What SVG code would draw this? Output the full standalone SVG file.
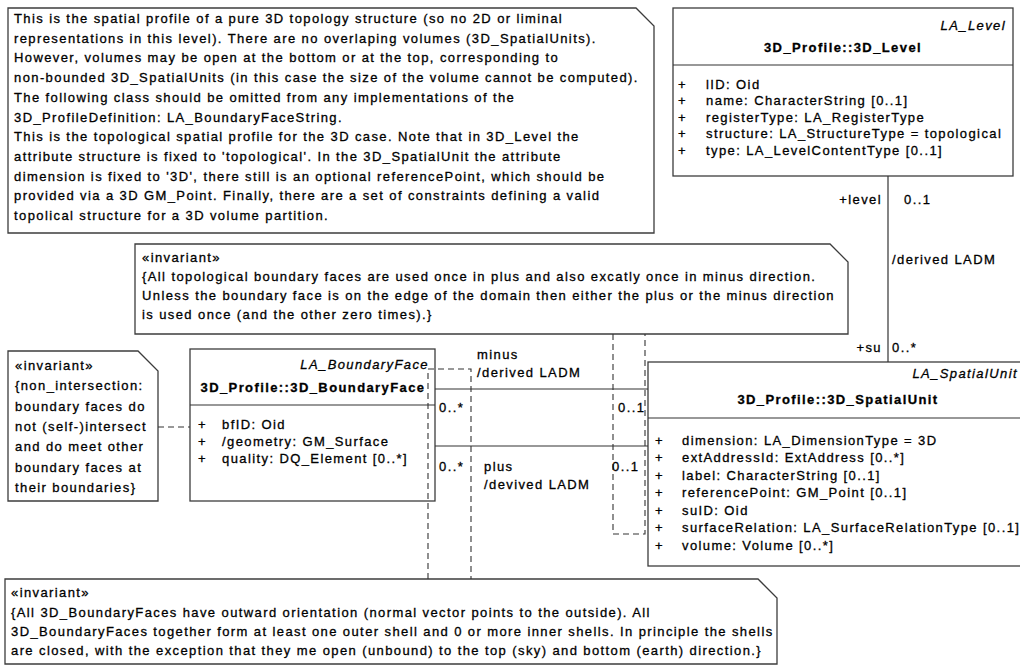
<svg xmlns="http://www.w3.org/2000/svg" width="1020" height="668" viewBox="0 0 1020 668">
<style>
text{font-family:"Liberation Sans",Arial,Helvetica,sans-serif;font-size:13px;letter-spacing:1.4px;fill:#000;stroke:#000;stroke-width:0.3}
.b{font-weight:bold}
.i{font-style:italic}
.e{text-anchor:end}
.m{text-anchor:middle}
.shape{fill:#fff;stroke:#3c3c3c;stroke-width:1.3}
.solid{fill:none;stroke:#333;stroke-width:1.2}
.dash{fill:none;stroke:#333;stroke-width:1.1;stroke-dasharray:6 4}
</style>
<rect width="1020" height="668" fill="#fff"/>

<g id="note-profile">
<path class="shape" d="M8,8 H636 L654,26 V233 H8 Z"/>
<text x="14" y="23">This is the spatial profile of a pure 3D topology structure (so no 2D or liminal</text>
<text x="14" y="42.7">representations in this level). There are no overlaping volumes (3D_SpatialUnits).</text>
<text x="14" y="62.4">However, volumes may be open at the bottom or at the top, corresponding to</text>
<text x="14" y="82.1">non-bounded 3D_SpatialUnits (in this case the size of the volume cannot be computed).</text>
<text x="14" y="101.8">The following class should be omitted from any implementations of the</text>
<text x="14" y="121.5">3D_ProfileDefinition: LA_BoundaryFaceString.</text>
<text x="14" y="141.2">This is the topological spatial profile for the 3D case. Note that in 3D_Level the</text>
<text x="14" y="160.9">attribute structure is fixed to 'topological'. In the 3D_SpatialUnit the attribute</text>
<text x="14" y="180.6">dimension is fixed to '3D', there still is an optional referencePoint, which should be</text>
<text x="14" y="200.3">provided via a 3D GM_Point. Finally, there are a set of constraints defining a valid</text>
<text x="14" y="220">topolical structure for a 3D volume partition.</text>
</g>

<g id="cls-level">
<rect class="shape" x="673" y="8" width="340" height="168"/>
<line class="solid" x1="673" y1="65" x2="1013" y2="65"/>
<text class="i e" x="1006" y="30">LA_Level</text>
<text class="b m" x="843" y="52">3D_Profile::3D_Level</text>
<text x="678" y="88.5">+</text><text x="706" y="88.5">lID: Oid</text>
<text x="678" y="105">+</text><text x="706" y="105">name: CharacterString [0..1]</text>
<text x="678" y="121.5">+</text><text x="706" y="121.5">registerType: LA_RegisterType</text>
<text x="678" y="138">+</text><text x="706" y="138">structure: LA_StructureType = topological</text>
<text x="678" y="154.5">+</text><text x="706" y="154.5">type: LA_LevelContentType [0..1]</text>
</g>

<g id="note-invariant-faces">
<path class="shape" d="M135,244 H830 L848,262 V334 H135 Z"/>
<text x="142" y="262">«invariant»</text>
<text x="142" y="281">{All topological boundary faces are used once in plus and also excatly once in minus direction.</text>
<text x="142" y="300">Unless the boundary face is on the edge of the domain then either the plus or the minus direction</text>
<text x="142" y="319">is used once (and the other zero times).}</text>
</g>

<g id="note-nonintersection">
<path class="shape" d="M8,351 H138 L158,371 V501 H8 Z"/>
<text x="15" y="370">«invariant»</text>
<text x="15" y="390.3">{non_intersection:</text>
<text x="15" y="410.6">boundary faces do</text>
<text x="15" y="430.9">not (self-)intersect</text>
<text x="15" y="451.2">and do meet other</text>
<text x="15" y="471.5">boundary faces at</text>
<text x="15" y="491.8">their boundaries}</text>
</g>

<g id="cls-boundaryface">
<rect class="shape" x="190" y="349" width="245" height="152"/>
<line class="solid" x1="190" y1="405" x2="435" y2="405"/>
<text class="i e" x="429" y="369">LA_BoundaryFace</text>
<text class="b m" x="313" y="392">3D_Profile::3D_BoundaryFace</text>
<text x="198" y="428.5">+</text><text x="222" y="428.5">bfID: Oid</text>
<text x="198" y="445.5">+</text><text x="222" y="445.5">/geometry: GM_Surface</text>
<text x="198" y="462.5">+</text><text x="222" y="462.5">quality: DQ_Element [0..*]</text>
</g>

<g id="cls-spatialunit">
<rect class="shape" x="648" y="362" width="382" height="204"/>
<line class="solid" x1="648" y1="418" x2="1030" y2="418"/>
<text class="i e" x="1018" y="378">LA_SpatialUnit</text>
<text class="b m" x="838" y="404">3D_Profile::3D_SpatialUnit</text>
<text x="655" y="444.5">+</text><text x="682" y="444.5">dimension: LA_DimensionType = 3D</text>
<text x="655" y="462">+</text><text x="682" y="462">extAddressId: ExtAddress [0..*]</text>
<text x="655" y="479.5">+</text><text x="682" y="479.5">label: CharacterString [0..1]</text>
<text x="655" y="497">+</text><text x="682" y="497">referencePoint: GM_Point [0..1]</text>
<text x="655" y="514.5">+</text><text x="682" y="514.5">suID: Oid</text>
<text x="655" y="532">+</text><text x="682" y="532">surfaceRelation: LA_SurfaceRelationType [0..1]</text>
<text x="655" y="549.5">+</text><text x="682" y="549.5">volume: Volume [0..*]</text>
</g>

<g id="note-invariant-orientation">
<path class="shape" d="M5,579 H758 L777,598 V664 H5 Z"/>
<text x="11" y="597">«invariant»</text>
<text x="11" y="617">{All 3D_BoundaryFaces have outward orientation (normal vector points to the outside). All</text>
<text x="11" y="636">3D_BoundaryFaces together form at least one outer shell and 0 or more inner shells. In principle the shells</text>
<text x="11" y="655">are closed, with the exception that they me open (unbound) to the top (sky) and bottom (earth) direction.}</text>
</g>

<g id="connectors">
<line class="solid" x1="888" y1="176" x2="888" y2="362"/>
<line class="solid" x1="435" y1="389" x2="648" y2="389"/>
<line class="solid" x1="435" y1="446" x2="648" y2="446"/>
<path class="dash" d="M158,427 H190"/>
<path class="dash" d="M428,579 V369 H471 V579"/>
<path class="dash" d="M613,334 V534 H645 V334"/>
<text class="e" x="882" y="204">+level</text>
<text x="904" y="204">0..1</text>
<text x="892" y="264">/derived LADM</text>
<text class="e" x="882" y="352">+su</text>
<text x="892" y="352">0..*</text>
<text x="477" y="359">minus</text>
<text x="477" y="377">/derived LADM</text>
<text x="439" y="412">0..*</text>
<text x="618" y="412">0..1</text>
<text x="439" y="471">0..*</text>
<text x="484" y="471">plus</text>
<text x="484" y="489">/devived LADM</text>
<text x="612" y="471">0..1</text>
</g>
</svg>
